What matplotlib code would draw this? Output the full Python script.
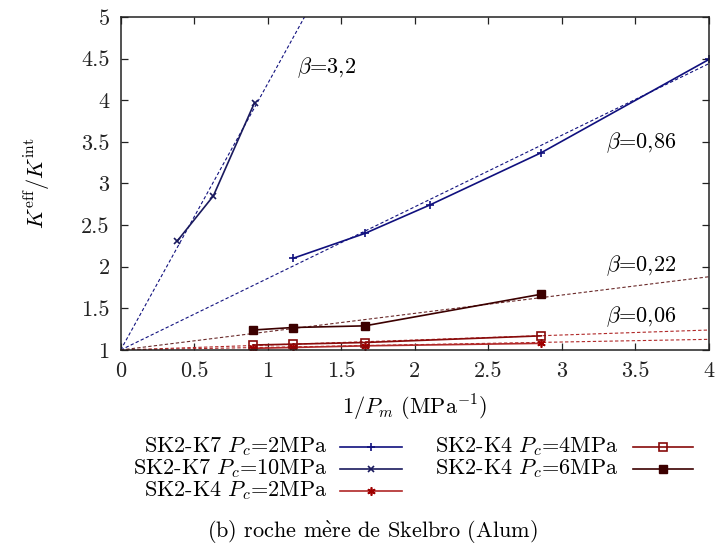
import numpy as np
import matplotlib
matplotlib.use("Agg")
from matplotlib import pyplot as plt
from matplotlib.lines import Line2D

plt.rcParams['font.family'] = ['cmr10', 'DejaVu Serif']
plt.rcParams['mathtext.fontset'] = 'cm'
plt.rcParams['axes.formatter.use_mathtext'] = True
plt.rcParams['font.size'] = 16

# measured points (x = 1/Pm in MPa^-1, y = Keff/Kint)
k7_2_x = [1.17, 1.66, 2.10, 2.86, 4.00]
k7_2_y = [2.10, 2.40, 2.74, 3.37, 4.49]
k7_10_x = [0.385, 0.63, 0.91]
k7_10_y = [2.31, 2.85, 3.97]
k4_2_x = [0.90, 1.17, 1.66, 2.86]
k4_2_y = [1.02, 1.03, 1.05, 1.08]
k4_4_x = [0.90, 1.17, 1.66, 2.86]
k4_4_y = [1.06, 1.07, 1.09, 1.17]
k4_6_x = [0.90, 1.17, 1.66, 2.86]
k4_6_y = [1.24, 1.27, 1.29, 1.67]

# fitted slopes: K = 1 + beta / Pm
beta_k7_2 = 0.86
beta_k7_10 = 3.2
beta_k4_2 = 0.032
beta_k4_4 = 0.06
beta_k4_6 = 0.22

labels = ['SK2-K7 $P_c$=2MPa', 'SK2-K7 $P_c$=10MPa', 'SK2-K4 $P_c$=2MPa',
          'SK2-K4 $P_c$=4MPa', 'SK2-K4 $P_c$=6MPa']
beta_txt = ['3,2', '0,86', '0,22', '0,06']
beta_pos = [(1.2, 4.39), (3.78, 3.49), (3.78, 2.01), (3.78, 1.40)]
beta_ha = ['left', 'right', 'right', 'right']

c_k7_2 = '#10107e'
c_k7_10 = '#1a1a5e'
c_k4_2 = '#b02828'
c_k4_4 = '#880a0a'
c_k4_6 = '#3c0000'
c_fit6 = '#6a2a2a'

fig = plt.figure(figsize=(7.17, 5.51), dpi=100)
ax = fig.add_axes([0.1683, 0.3648, 0.8205, 0.6044])

xf = np.array([0.0, 4.0])
fits = [(beta_k7_10, c_k7_2), (beta_k7_2, c_k7_2), (beta_k4_6, c_fit6),
        (beta_k4_4, c_k4_2), (beta_k4_2, c_k4_2)]
for b, c in fits:
    ax.plot(xf, 1 + b * xf, ls=(0, (3, 2)), color=c, lw=0.8)

series = [
    (k7_2_x, k7_2_y, c_k7_2, dict(marker='+', ms=6, mew=1.2)),
    (k7_10_x, k7_10_y, c_k7_10, dict(marker='x', ms=5, mew=1.2)),
    (k4_2_x, k4_2_y, c_k4_2, dict(marker=(6, 2, 0), ms=6, mew=1.2, mec='#a00000')),
    (k4_4_x, k4_4_y, c_k4_4, dict(marker='s', ms=6, mfc='none', mew=1.2)),
    (k4_6_x, k4_6_y, c_k4_6, dict(marker='s', ms=6)),
]
for x, y, c, mk in series:
    ax.plot(x, y, color=c, lw=1.2, **mk)

for t, (bx, by), ha in zip(beta_txt, beta_pos, beta_ha):
    ax.text(bx, by, r'$\beta$=' + t, ha=ha, va='center', fontsize=16)

ax.set_xlim(0, 4)
ax.set_ylim(1, 5)
ax.set_xticks(np.arange(0, 4.01, 0.5))
ax.set_yticks(np.arange(1, 5.01, 0.5))
ax.set_xticklabels(['0', '0.5', '1', '1.5', '2', '2.5', '3', '3.5', '4'])
ax.set_yticklabels(['1', '1.5', '2', '2.5', '3', '3.5', '4', '4.5', '5'])
ax.tick_params(direction='in', length=5, width=0.9, top=True, right=True,
               labelsize=16, colors='#222222')
ax.tick_params(axis='x', pad=8)
ax.tick_params(axis='y', pad=8)
for s in ax.spines.values():
    s.set_linewidth(1.1)
    s.set_color('#222222')

ax.set_xlabel(r'1/$P_m$ (MPa$^{-1}$)', fontsize=16, labelpad=9)
ax.set_ylabel(r'$K^{\rm eff}/K^{\rm int}$', fontsize=16, labelpad=20)

# gnuplot style key: text right aligned, sample to the right
rows = [0.1887, 0.1488, 0.1089]
cols = [(0.456, 0.474, 0.561), (0.862, 0.883, 0.967)]
slots = [(0, 0), (0, 1), (0, 2), (1, 0), (1, 1)]
for (ci, ri), lab, (x, y, c, mk) in zip(slots, labels, series):
    tx, l1, l2 = cols[ci]
    yy = rows[ri]
    fig.text(tx, yy, lab, ha='right', va='center', fontsize=16)
    fig.add_artist(Line2D([l1, (l1 + l2) / 2, l2], [yy, yy, yy],
                          transform=fig.transFigure, color=c, lw=1.2,
                          markevery=[1], **mk))

fig.text(0.519, 0.033, r'(b) roche m$\grave{\rm e}$re de Skelbro (Alum)',
         ha='center', va='center', fontsize=16)

fig.savefig('out.png', dpi=100)
